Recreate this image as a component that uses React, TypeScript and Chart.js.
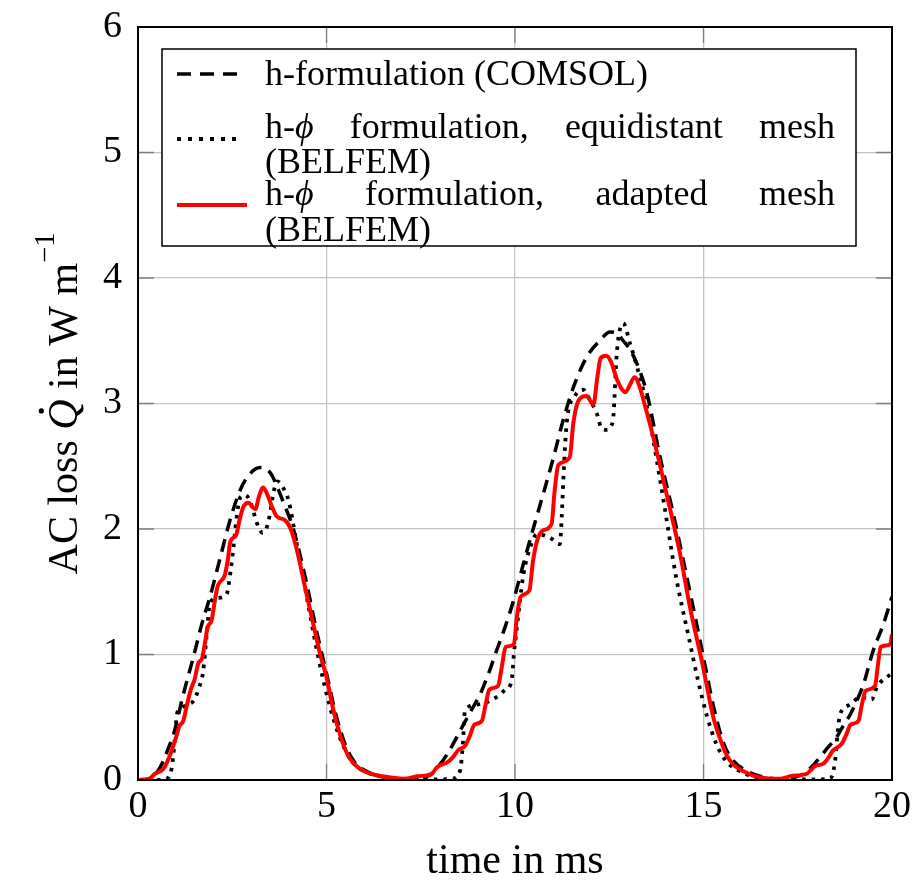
import React, { useEffect, useRef } from "react";
import { Chart, registerables } from "chart.js";

Chart.register(...registerables);

// ---------------- data ----------------
const comsolT = [0, 0.3, 0.5, 0.67, 0.8, 0.94, 1.2, 1.47, 1.69, 1.91, 2.18, 2.44, 2.71, 2.97, 3.24, 3.4, 3.55, 3.7, 3.86, 4.12, 4.47, 4.75, 5.0, 5.25, 5.5, 5.75, 6.0, 6.4, 7.0, 7.5, 7.75, 8.0, 8.19, 8.4, 8.63, 8.85, 9.07, 9.3, 9.51, 9.75, 9.96, 10.22, 10.49, 10.75, 11.02, 11.28, 11.55, 11.9, 12.25, 12.52, 12.7, 12.87, 13.05, 13.23, 13.5, 13.85, 14.2, 14.5, 14.8, 15.05, 15.3, 15.55, 15.8, 16.1, 16.5, 17.0, 17.5, 17.66, 17.85, 18.09, 18.3, 18.53, 18.7, 18.89, 19.05, 19.24, 19.5, 19.77, 20];
const comsolQ = [0, 0.01, 0.06, 0.15, 0.25, 0.36, 0.68, 0.98, 1.24, 1.46, 1.77, 2.07, 2.31, 2.44, 2.49, 2.48, 2.43, 2.33, 2.21, 2.0, 1.57, 1.17, 0.85, 0.52, 0.28, 0.14, 0.08, 0.03, 0.01, 0.02, 0.04, 0.12, 0.2, 0.31, 0.44, 0.56, 0.68, 0.85, 1.03, 1.23, 1.43, 1.72, 2.01, 2.28, 2.57, 2.87, 3.13, 3.37, 3.5, 3.57, 3.56, 3.5, 3.43, 3.32, 3.08, 2.57, 2.12, 1.7, 1.27, 0.9, 0.54, 0.28, 0.15, 0.08, 0.03, 0.01, 0.03, 0.05, 0.1, 0.18, 0.26, 0.34, 0.43, 0.52, 0.62, 0.76, 1.03, 1.24, 1.46];

const equiT = [0, 0.5, 0.76, 0.89, 0.97, 1.03, 1.1, 1.3, 1.47, 1.6, 1.73, 1.82, 1.91, 2.1, 2.35, 2.45, 2.53, 2.62, 2.71, 2.85, 3.0, 3.15, 3.3, 3.4, 3.5, 3.6, 3.7, 3.85, 4.0, 4.2, 4.45, 4.7, 4.95, 5.2, 5.45, 5.7, 6.0, 6.4, 7.0, 7.5, 8.0, 8.32, 8.54, 8.62, 8.67, 8.98, 9.51, 9.75, 9.91, 9.97, 10.04, 10.22, 10.4, 10.58, 10.93, 11.19, 11.24, 11.28, 11.37, 11.59, 11.81, 12.0, 12.17, 12.3, 12.43, 12.55, 12.61, 12.7, 12.87, 13.05, 13.23, 13.5, 13.85, 14.29, 14.6, 14.85, 15.1, 15.35, 15.6, 15.9, 16.3, 17.0, 18.0, 18.36, 18.49, 18.55, 18.62, 18.89, 19.15, 19.46, 19.6, 19.95, 20];
const equiQ = [0, 0, 0.01, 0.09, 0.3, 0.52, 0.56, 0.6, 0.63, 0.72, 0.87, 1.15, 1.41, 1.45, 1.48, 1.65, 1.85, 2.1, 2.25, 2.27, 2.2, 2.05, 1.97, 2.0, 2.12, 2.3, 2.38, 2.33, 2.22, 1.9, 1.5, 1.1, 0.75, 0.47, 0.27, 0.14, 0.07, 0.03, 0.005, 0.005, 0.005, 0.01, 0.07, 0.3, 0.55, 0.6, 0.66, 0.72, 0.79, 1.0, 1.19, 1.63, 1.85, 1.96, 1.93, 1.88, 2.1, 2.38, 2.84, 3.06, 3.11, 3.02, 2.92, 2.8, 2.79, 2.82, 2.9, 3.4, 3.64, 3.48, 3.3, 2.98, 2.39, 1.59, 1.15, 0.8, 0.5, 0.28, 0.15, 0.08, 0.03, 0.005, 0.005, 0.01, 0.15, 0.35, 0.52, 0.6, 0.66, 0.64, 0.74, 0.84, 0.85];

const adaptT = [0, 0.3, 0.45, 0.6, 0.7, 0.85, 1.0, 1.1, 1.2, 1.3, 1.4, 1.5, 1.6, 1.7, 1.78, 1.85, 1.95, 2.05, 2.12, 2.3, 2.38, 2.45, 2.6, 2.7, 2.8, 2.93, 3.05, 3.12, 3.2, 3.32, 3.45, 3.55, 3.68, 3.9, 4.05, 4.2, 4.4, 4.65, 4.85, 5.0, 5.15, 5.3, 5.45, 5.6, 5.8, 6.0, 6.3, 6.7, 7.1, 7.4, 7.6, 7.8, 7.9, 8.0, 8.2, 8.35, 8.5, 8.67, 8.8, 8.92, 9.12, 9.22, 9.32, 9.55, 9.65, 9.75, 9.97, 10.05, 10.15, 10.38, 10.48, 10.6, 10.75, 10.97, 11.05, 11.15, 11.45, 11.55, 11.68, 11.9, 12.08, 12.18, 12.27, 12.42, 12.55, 12.72, 12.93, 13.05, 13.17, 13.3, 13.45, 13.67, 14.02, 14.38, 14.64, 14.99, 15.26, 15.45, 15.61, 15.8, 16.06, 16.5, 17.03, 17.2, 17.3, 17.74, 17.85, 17.95, 18.18, 18.32, 18.42, 18.67, 18.8, 18.9, 19.11, 19.2, 19.3, 19.55, 19.62, 19.7, 19.95, 20];
const adaptQ = [0, 0.01, 0.05, 0.07, 0.1, 0.2, 0.33, 0.43, 0.47, 0.6, 0.72, 0.8, 0.93, 0.97, 1.1, 1.22, 1.27, 1.45, 1.55, 1.63, 1.75, 1.9, 1.95, 2.08, 2.18, 2.21, 2.17, 2.16, 2.25, 2.33, 2.26, 2.18, 2.1, 2.07, 2.0, 1.85, 1.58, 1.24, 0.98, 0.82, 0.6, 0.42, 0.28, 0.18, 0.11, 0.07, 0.04, 0.02, 0.01, 0.03, 0.035, 0.05, 0.09, 0.115, 0.14, 0.18, 0.24, 0.27, 0.35, 0.44, 0.47, 0.6, 0.72, 0.75, 0.9, 1.06, 1.08, 1.3, 1.46, 1.51, 1.75, 1.92, 1.99, 2.04, 2.3, 2.51, 2.57, 2.85, 3.02, 3.06, 2.99, 3.2, 3.36, 3.38, 3.33, 3.18, 3.09, 3.15, 3.21, 3.14, 2.98, 2.73, 2.28, 1.8, 1.38, 0.9, 0.5, 0.32, 0.2, 0.12, 0.07, 0.02, 0.01, 0.02, 0.03, 0.05, 0.08, 0.11, 0.13, 0.18, 0.23, 0.29, 0.37, 0.44, 0.47, 0.6, 0.71, 0.75, 0.9, 1.06, 1.08, 1.16];

const xTickValues = [0, 5, 10, 15, 20];
const yTickValues = [0, 1, 2, 3, 4, 5, 6];

const xTitle = "time in ms";
const legendRow1 = ["h-formulation", "(COMSOL)"];
const legendRow2 = ["formulation,", "equidistant", "mesh"];
const legendRow3 = ["formulation,", "adapted", "mesh"];
const legendSecondLine = "(BELFEM)";

// ---------------- drawing helpers ----------------
const SERIF = '"Liberation Serif", "Times New Roman", serif';
const fnt = (size: number, italic = false) => `${italic ? "italic " : ""}${size}px ${SERIF}`;

type Seg = { text: string; italic?: boolean; scale?: number; dy?: number };

function segsWidth(ctx: CanvasRenderingContext2D, segs: Seg[], base: number) {
  let w = 0;
  for (const s of segs) {
    ctx.font = fnt(base * (s.scale ?? 1), s.italic);
    w += ctx.measureText(s.text).width;
  }
  return w;
}

function drawSegs(ctx: CanvasRenderingContext2D, segs: Seg[], x: number, y: number, base: number) {
  let cx = x;
  const starts: number[] = [];
  for (const s of segs) {
    ctx.font = fnt(base * (s.scale ?? 1), s.italic);
    starts.push(cx);
    ctx.fillText(s.text, cx, y + (s.dy ?? 0) * base);
    cx += ctx.measureText(s.text).width;
  }
  return starts;
}

function drawJustified(ctx: CanvasRenderingContext2D, words: Seg[][], x0: number, x1: number, y: number, base: number) {
  const widths = words.map((w) => segsWidth(ctx, w, base));
  const total = widths.reduce((a, b) => a + b, 0);
  const gap = (x1 - x0 - total) / (words.length - 1);
  let cx = x0;
  words.forEach((w, i) => {
    drawSegs(ctx, w, cx, y, base);
    cx += widths[i] + gap;
  });
}

const decorPlugin = {
  id: "decor",
  beforeDatasetsDraw(chart: any) {
    const { ctx, chartArea: ca, scales } = chart;
    ctx.save();
    ctx.strokeStyle = "#7f7f7f";
    ctx.lineWidth = 1.3;
    const L = 16;
    for (const v of xTickValues) {
      const px = scales.x.getPixelForValue(v);
      ctx.beginPath();
      ctx.moveTo(px, ca.bottom);
      ctx.lineTo(px, ca.bottom - L);
      ctx.moveTo(px, ca.top);
      ctx.lineTo(px, ca.top + L);
      ctx.stroke();
    }
    for (const v of yTickValues) {
      const py = scales.y.getPixelForValue(v);
      ctx.beginPath();
      ctx.moveTo(ca.left, py);
      ctx.lineTo(ca.left + L, py);
      ctx.moveTo(ca.right, py);
      ctx.lineTo(ca.right - L, py);
      ctx.stroke();
    }
    ctx.restore();
  },
  afterDatasetsDraw(chart: any) {
    const { ctx, chartArea: ca } = chart;
    ctx.save();
    ctx.strokeStyle = "#000";
    ctx.lineWidth = 2;
    ctx.strokeRect(ca.left, ca.top, ca.right - ca.left, ca.bottom - ca.top);
    ctx.restore();
  },
  afterDraw(chart: any) {
    const { ctx, chartArea: ca } = chart;
    ctx.save();
    ctx.fillStyle = "#000";
    ctx.textAlign = "left";
    ctx.textBaseline = "alphabetic";

    // x-axis title
    ctx.font = fnt(42);
    const xw = ctx.measureText(xTitle).width;
    ctx.fillText(xTitle, (ca.left + ca.right) / 2 - xw / 2, 873);

    // y-axis title (rotated)
    const yb = 42;
    const ySegs: Seg[] = [
      { text: "AC loss " },
      { text: "Q", italic: true },
      { text: " in W m" },
      { text: "\u22121", scale: 0.68, dy: -0.55 },
    ];
    ctx.save();
    ctx.translate(77, (ca.top + ca.bottom) / 2);
    ctx.rotate(-Math.PI / 2);
    const yw = segsWidth(ctx, ySegs, yb);
    const starts = drawSegs(ctx, ySegs, -yw / 2, 0, yb);
    ctx.font = fnt(yb, true);
    const qw = ctx.measureText("Q").width;
    ctx.beginPath();
    ctx.arc(starts[1] + qw * 0.62, -yb * 0.85, 2.6, 0, Math.PI * 2);
    ctx.fill();
    ctx.restore();

    // legend
    const bx0 = ca.left + 24;
    const by0 = ca.top + 22;
    const bx1 = ca.right - 36;
    const by1 = ca.top + 219;
    ctx.fillStyle = "#fff";
    ctx.fillRect(bx0, by0, bx1 - bx0, by1 - by0);
    ctx.strokeStyle = "#000";
    ctx.lineWidth = 1.5;
    ctx.strokeRect(bx0, by0, bx1 - bx0, by1 - by0);

    const lb = 36;
    const tx0 = bx0 + 103;
    const tx1 = bx1 - 21;
    const sx0 = bx0 + 15;
    const sx1 = bx0 + 77;

    // samples
    ctx.lineWidth = 3.5;
    ctx.strokeStyle = "#000";
    ctx.setLineDash([14, 9]);
    ctx.beginPath();
    ctx.moveTo(sx0, by0 + 25);
    ctx.lineTo(sx1, by0 + 25);
    ctx.stroke();
    ctx.lineWidth = 4;
    ctx.setLineDash([4, 7]);
    ctx.beginPath();
    ctx.moveTo(sx0, by0 + 90);
    ctx.lineTo(sx1, by0 + 90);
    ctx.stroke();
    ctx.setLineDash([]);
    ctx.strokeStyle = "#ff0000";
    ctx.lineWidth = 4;
    ctx.beginPath();
    ctx.moveTo(sx0, by0 + 156);
    ctx.lineTo(sx1 + 8, by0 + 156);
    ctx.stroke();

    ctx.fillStyle = "#000";
    // row 1
    ctx.font = fnt(lb);
    ctx.fillText(legendRow1.join(" "), tx0, by0 + 36);
    // row 2
    const hphi: Seg[] = [{ text: "h-" }, { text: "\u03D5", italic: true }];
    drawJustified(ctx, [hphi, ...legendRow2.map((w) => [{ text: w }])], tx0, tx1, by0 + 89, lb);
    ctx.font = fnt(lb);
    ctx.fillText(legendSecondLine, tx0, by0 + 124);
    // row 3
    drawJustified(ctx, [hphi, ...legendRow3.map((w) => [{ text: w }])], tx0, tx1, by0 + 156, lb);
    ctx.font = fnt(lb);
    ctx.fillText(legendSecondLine, tx0, by0 + 192);

    ctx.restore();
  },
};

const toPoints = (t: number[], q: number[]) => t.map((v, i) => ({ x: v, y: q[i] }));

export default function App() {
  const ref = useRef<HTMLCanvasElement>(null);

  useEffect(() => {
    const canvas = ref.current;
    if (!canvas) return;
    const gridColor = "#c4c4c4";
    const chart = new Chart(canvas, {
      type: "line",
      data: {
        datasets: [
          {
            label: "h-phi formulation, adapted mesh (BELFEM)",
            data: toPoints(adaptT, adaptQ),
            borderColor: "#ff0000",
            borderWidth: 4,
            order: 0,
          },
          {
            label: "h-phi formulation, equidistant mesh (BELFEM)",
            data: toPoints(equiT, equiQ),
            borderColor: "#000000",
            borderWidth: 3.8,
            borderDash: [3.5, 6],
            order: 1,
          },
          {
            label: "h-formulation (COMSOL)",
            data: toPoints(comsolT, comsolQ),
            borderColor: "#000000",
            borderWidth: 3.5,
            borderDash: [13, 8],
            order: 2,
          },
        ],
      },
      options: {
        responsive: false,
        animation: false,
        devicePixelRatio: 1,
        layout: { padding: { top: 27, right: 21, left: 0, bottom: 0 } },
        plugins: { legend: { display: false }, tooltip: { enabled: false }, title: { display: false } },
        elements: {
          point: { radius: 0, hoverRadius: 0 },
          line: { cubicInterpolationMode: "monotone", fill: false },
        },
        scales: {
          x: {
            type: "linear",
            min: 0,
            max: 20,
            afterBuildTicks: (s: any) => {
              s.ticks = xTickValues.map((v) => ({ value: v }));
            },
            afterFit: (s: any) => {
              s.height = 102;
              s.paddingLeft = 0;
              s.paddingRight = 0;
            },
            ticks: {
              color: "#000",
              font: { family: SERIF, size: 38 },
              padding: 4,
              maxRotation: 0,
              callback: (v: any) => String(v),
            },
            grid: { color: gridColor, lineWidth: 1.3, drawTicks: false },
            border: { display: false },
          },
          y: {
            type: "linear",
            min: 0,
            max: 6,
            afterBuildTicks: (s: any) => {
              s.ticks = yTickValues.map((v) => ({ value: v }));
            },
            afterFit: (s: any) => {
              s.width = 138;
              s.paddingTop = 0;
              s.paddingBottom = 0;
            },
            ticks: {
              color: "#000",
              font: { family: SERIF, size: 38 },
              padding: 16,
              callback: (v: any) => String(v),
            },
            grid: { color: gridColor, lineWidth: 1.3, drawTicks: false },
            border: { display: false },
          },
        },
      },
      plugins: [decorPlugin],
    } as any);
    return () => chart.destroy();
  }, []);

  return (
    <div style={{ position: "fixed", left: 0, top: 0, width: 913, height: 882, background: "#fff" }}>
      <canvas ref={ref} width={913} height={882} style={{ display: "block" }} />
    </div>
  );
}
